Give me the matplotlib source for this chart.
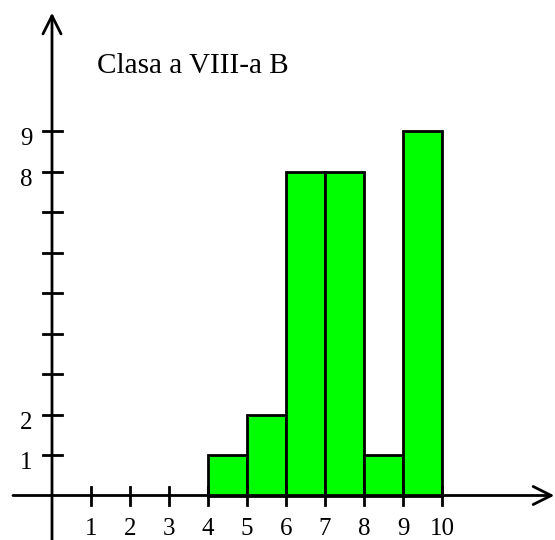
import matplotlib
matplotlib.use('Agg')
import matplotlib.pyplot as plt

# histogram data: class intervals [4,5), [5,6) ... and counts
left_edges = [4, 5, 6, 7, 8, 9]
counts = [1, 2, 8, 8, 1, 9]
x_ticks = [1, 2, 3, 4, 5, 6, 7, 8, 9, 10]
y_ticks = [1, 2, 3, 4, 5, 6, 7, 8, 9]
y_labels = {1: '1', 2: '2', 8: '8', 9: '9'}
title = 'Clasa a VIII-a B'

plt.rcParams['font.family'] = ['Liberation Serif', 'DejaVu Serif']

fig = plt.figure(figsize=(5.55, 5.40), dpi=100)
ax = fig.add_axes([0, 0, 1, 1])
# origin at pixel (52, 495.5); 39 px per x unit, 40.5 px per y unit
ax.set_xlim(-52 / 39, (555 - 52) / 39)
ax.set_ylim(-(540 - 495.5) / 40.5, 495.5 / 40.5)
ax.axis('off')

ax.bar(left_edges, counts, width=1, align='edge', color='#00ff00',
       edgecolor='black', linewidth=2, zorder=2)

# axes with open arrow heads
arrow = dict(arrowstyle='->,head_length=1.3,head_width=0.65', lw=2,
             color='black', shrinkA=0, shrinkB=0, mutation_scale=10)
ax.annotate('', xy=(12.88, 0), xytext=(-1.0, 0), arrowprops=arrow, zorder=3)
ax.annotate('', xy=(0, 11.92), xytext=(0, -1.2), arrowprops=arrow, zorder=3)

for t in x_ticks:
    ax.plot([t, t], [-0.24, 0.2], color='black', lw=2, zorder=3)
    ax.text(t, -0.975, str(t), ha='center', va='baseline', fontsize=18)

for t in y_ticks:
    ax.plot([-0.24, 0.25], [t, t], color='black', lw=2, zorder=3)
    if t in y_labels:
        ax.text(-0.5, t - 0.35, y_labels[t], ha='right', va='baseline',
                fontsize=18)

ax.text(1.15, 10.43, title, ha='left', va='baseline', fontsize=21)

fig.savefig('out.png', dpi=100)
